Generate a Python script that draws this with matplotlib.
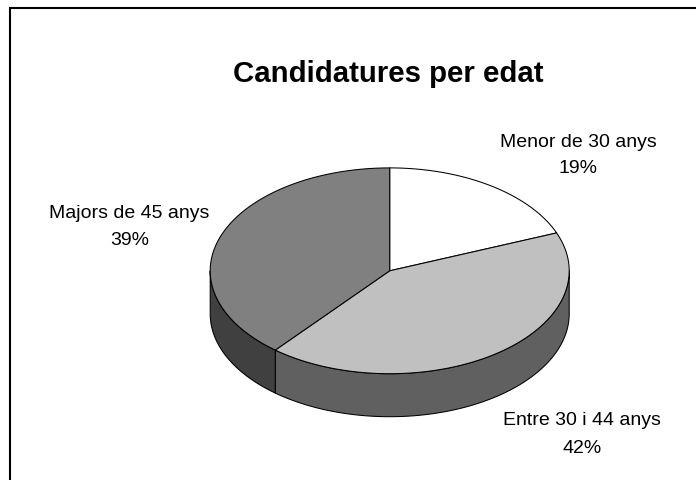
import numpy as np
import matplotlib
matplotlib.use("Agg")
import matplotlib.pyplot as plt
from matplotlib.patches import Polygon

# ---- data ----
title = "Candidatures per edat"
categories = ["Menor de 30 anys", "Entre 30 i 44 anys", "Majors de 45 anys"]
values = [19, 42, 39]
top_colors = ["#ffffff", "#c0c0c0", "#808080"]
side_colors = ["#e0e0e0", "#606060", "#404040"]

plt.rcParams['font.family'] = ['Liberation Sans', 'DejaVu Sans']

W, H = 696, 481
fig = plt.figure(figsize=(W / 100, H / 100), dpi=100)
ax = fig.add_axes([0, 0, 1, 1])
ax.set_xlim(0, W)
ax.set_ylim(H, 0)
ax.axis('off')

# ---- pie geometry (pixel coordinates) ----
cx, cy = 389.7, 271.8
rx, ry = 179.5, 102.9
depth = 43.0
lw = 0.75

def pt(t_deg, dz=0.0):
    t = np.radians(t_deg)
    return cx + rx * np.cos(t), cy - ry * np.sin(t) + dz

fr = np.array(values, dtype=float) / np.sum(values)
cum = np.concatenate([[0], np.cumsum(fr)])
# start at 12 o'clock, clockwise
t_hi = 90 - 360 * cum[:-1]
t_lo = 90 - 360 * cum[1:]

# sides (front half: t in [180, 360] mod 360)
for i in range(len(values)):
    for k in (-2, -1, 0, 1):
        a = max(t_lo[i], 180 + 360 * k)
        b = min(t_hi[i], 360 + 360 * k)
        if b - a > 1e-6:
            ts = np.linspace(a, b, 120)
            top = [pt(t) for t in ts]
            bot = [pt(t, depth) for t in ts[::-1]]
            ax.add_patch(Polygon(top + bot, closed=True, facecolor=side_colors[i],
                                 edgecolor='black', linewidth=lw, joinstyle='round'))

# top surface wedges
for i in range(len(values)):
    ts = np.linspace(t_hi[i], t_lo[i], 200)
    verts = [(cx, cy)] + [pt(t) for t in ts]
    ax.add_patch(Polygon(verts, closed=True, facecolor=top_colors[i],
                         edgecolor='black', linewidth=lw, joinstyle='round'))

# ---- labels ----
label_pos = [(578, 147, 173), (582, 425, 453), (129.5, 218, 245)]
for (x, y1, y2), cat, v in zip(label_pos, categories, values):
    ax.text(x, y1, cat, ha='center', va='baseline', fontsize=14, color='black')
    ax.text(x, y2, f"{v}%", ha='center', va='baseline', fontsize=14, color='black')

ax.text(388.5, 82, title, ha='center', va='baseline', fontsize=21.2,
        fontweight='bold', color='black')

# ---- border (left and top) ----
ax.plot([10, 10, W + 5], [H + 5, 9, 9], color='black', linewidth=1.5,
        solid_joinstyle='miter', clip_on=False)

fig.savefig("out.png", dpi=100, facecolor='white')
